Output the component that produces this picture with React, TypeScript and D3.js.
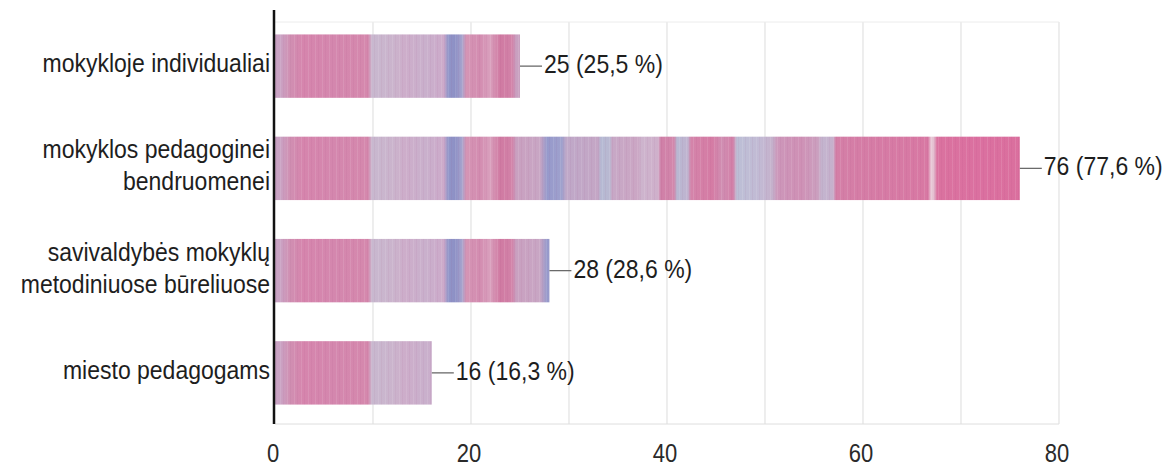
import React from "react";
import * as d3 from "d3";

const categories: string[][] = [
  ["mokykloje individualiai"],
  ["mokyklos pedagoginei", "bendruomenei"],
  ["savivaldybės mokyklų", "metodiniuose būreliuose"],
  ["miesto pedagogams"],
];
const counts = [25, 76, 28, 16];
const percents = ["25,5", "77,6", "28,6", "16,3"];
const ticks = [0, 20, 40, 60, 80];
const gridTicks = [10, 20, 30, 40, 50, 60, 70, 80];

const W = 1172;
const H = 469;
const left = 275;
const right = 1059;
const top = 15;
const bottom = 424;

// scan-like vertical stripe texture of the bars (pixel position, colour) – style only
const stripes: [number, string][] = [
  [275, "#c9a5c5"], [281, "#caa2c3"], [290, "#d08fb2"], [303, "#d685ad"], [335, "#d487ae"],
  [368, "#d588ad"], [372, "#c8b8cf"], [395, "#cbb3cc"], [405, "#cdadca"], [425, "#c9b0cc"],
  [444, "#cdaaca"], [448, "#9195c8"], [455, "#8d90c5"], [462, "#a6a3cd"], [466, "#d595b5"],
  [480, "#d38cb0"], [490, "#d9a0bd"], [500, "#d07aa2"], [512, "#d282a8"], [516, "#c9a0c0"],
  [540, "#c8a6c4"], [547, "#9699cb"], [562, "#9fa1cd"], [566, "#bfa8c8"], [598, "#c4a6c5"],
  [601, "#b5b9d3"], [610, "#b9b8d1"], [612, "#c7a8c6"], [638, "#cba6c4"], [641, "#cdb4cd"],
  [658, "#cfb0cb"], [661, "#d07fa7"], [674, "#d288ac"], [677, "#b8b8d2"], [688, "#c0b3cf"],
  [691, "#d484aa"], [712, "#d57ba4"], [722, "#d08eb2"], [733, "#d380a8"], [737, "#bcbfd6"],
  [760, "#c2bad4"], [773, "#c5b0cb"], [777, "#cc97ba"], [800, "#cf90b5"], [818, "#cba0bf"],
  [822, "#c3b5cf"], [833, "#c6b0cc"], [836, "#d47fa7"], [880, "#d67ba5"], [928, "#d878a3"],
  [931, "#e8c8d6"], [934, "#e4bfd0"], [937, "#da729f"], [980, "#db70a0"], [1030, "#da6f9d"],
];

export default function App() {
  const x = d3.scaleLinear().domain([0, 80]).range([left, right]);
  const y = d3
    .scaleBand<number>()
    .domain(d3.range(categories.length))
    .range([top, bottom])
    .paddingInner(0.38)
    .paddingOuter(0.19);
  const font = "'Liberation Sans', Arial, sans-serif";
  const sy = 1.13;
  const T = (tx: number, ty: number) => `translate(${tx},${ty}) scale(1,${sy})`;
  return (
    <svg
      width={W}
      height={H}
      style={{ position: "absolute", left: 0, top: 0, background: "#fff" }}
      fontFamily={font}
    >
      <defs>
        <linearGradient id="tex" gradientUnits="userSpaceOnUse" x1={0} x2={W} y1={0} y2={0}>
          {stripes.map(([p, c], i) => (
            <stop key={i} offset={p / W} stopColor={c} />
          ))}
        </linearGradient>
        <pattern id="fine" patternUnits="userSpaceOnUse" width={7} height={10}>
          <rect x={0} y={0} width={1} height={10} fill="#ffffff" opacity={0.1} />
          <rect x={3} y={0} width={1} height={10} fill="#8a3060" opacity={0.05} />
        </pattern>
      </defs>
      {/* grid */}
      {gridTicks.map((t) => (
        <line key={t} x1={x(t)} x2={x(t)} y1={top + 7} y2={bottom} stroke="#e2e2e2" strokeWidth={1.2} />
      ))}
      <line x1={left} x2={right} y1={top + 7} y2={top + 7} stroke="#ececec" />
      <line x1={left} x2={right} y1={bottom} y2={bottom} stroke="#dedede" />
      {/* bars */}
      {counts.map((v, i) => {
        const by = y(i)!;
        const bh = y.bandwidth();
        const cy = by + bh / 2;
        const n = categories[i].length;
        return (
          <g key={i}>
            <rect x={x(0)} y={by} width={x(v) - x(0)} height={bh} fill="url(#tex)" />
            <rect x={x(0)} y={by} width={x(v) - x(0)} height={bh} fill="url(#fine)" />
            <line x1={x(v)} x2={x(v) + 22} y1={cy} y2={cy} stroke="#6a6a6a" strokeWidth={1.3} />
            <text transform={T(x(v) + 24, cy + 7)} fontSize={23} fill="#1e1e1e">
              {`${v} (${percents[i]} %)`}
            </text>
            {categories[i].map((line, j) => (
              <text
                key={j}
                transform={T(left - 5, cy + 6 + (j - (n - 1) / 2) * 32)}
                textAnchor="end"
                fontSize={23}
                fill="#1e1e1e"
              >
                {line}
              </text>
            ))}
          </g>
        );
      })}
      {/* axis line */}
      <line x1={left - 1} x2={left - 1} y1={10} y2={bottom} stroke="#111" strokeWidth={2.5} />
      {/* tick labels */}
      {ticks.map((t) => (
        <text key={t} transform={T(x(t) - 2, 462)} textAnchor="middle" fontSize={22} fill="#2a2a2a">
          {t}
        </text>
      ))}
    </svg>
  );
}
